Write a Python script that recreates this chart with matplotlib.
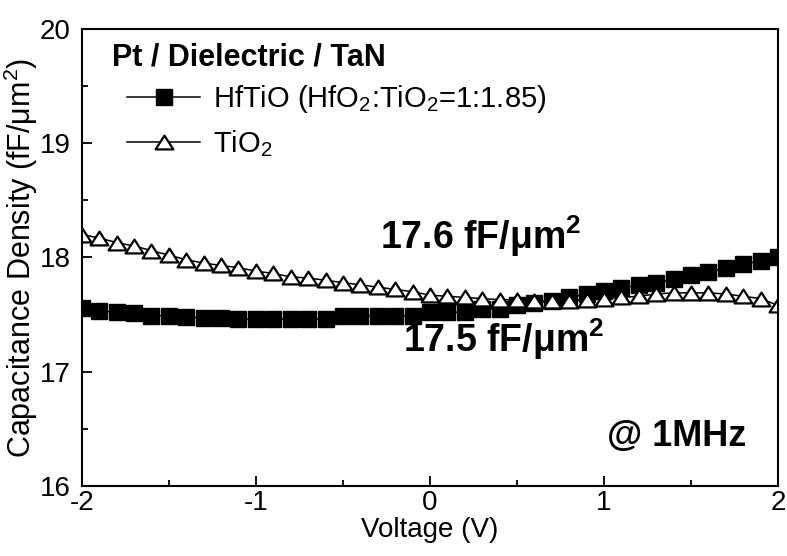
import matplotlib
matplotlib.use('Agg')
import matplotlib.pyplot as plt
from matplotlib.path import Path
from matplotlib.ticker import MultipleLocator

plt.rcParams['font.family'] = ['Liberation Sans', 'DejaVu Sans']
plt.rcParams['mathtext.fontset'] = 'custom'
plt.rcParams['mathtext.rm'] = 'Liberation Sans'
plt.rcParams['mathtext.bf'] = 'Liberation Sans:bold'
plt.rcParams['mathtext.it'] = 'Liberation Sans:italic'
plt.rcParams['axes.unicode_minus'] = False

# bias voltage (V), 0.1 V steps
voltage = [-2.0, -1.9, -1.8, -1.7, -1.6, -1.5, -1.4, -1.3, -1.2, -1.1,
           -1.0, -0.9, -0.8, -0.7, -0.6, -0.5, -0.4, -0.3, -0.2, -0.1,
           0.0, 0.1, 0.2, 0.3, 0.4, 0.5, 0.6, 0.7, 0.8, 0.9,
           1.0, 1.1, 1.2, 1.3, 1.4, 1.5, 1.6, 1.7, 1.8, 1.9, 2.0]

# capacitance density (fF/um^2)
cap_hftio = [17.56, 17.53, 17.52, 17.51, 17.49, 17.49, 17.48, 17.47, 17.47, 17.46,
             17.46, 17.46, 17.46, 17.46, 17.46, 17.49, 17.49, 17.49, 17.49, 17.49,
             17.52, 17.52, 17.52, 17.55, 17.55, 17.58, 17.60, 17.62, 17.65, 17.68,
             17.71, 17.73, 17.76, 17.78, 17.81, 17.85, 17.87, 17.91, 17.94, 17.97, 18.00]

cap_tio2 = [18.20, 18.17, 18.13, 18.10, 18.06, 18.02, 17.98, 17.95, 17.93, 17.91,
            17.88, 17.86, 17.83, 17.82, 17.80, 17.78, 17.76, 17.74, 17.72, 17.70,
            17.67, 17.66, 17.65, 17.64, 17.63, 17.63, 17.62, 17.62, 17.62, 17.63,
            17.64, 17.65, 17.66, 17.68, 17.69, 17.69, 17.69, 17.68, 17.66, 17.64, 17.58]

labels = ['HfTiO (HfO$_2$:TiO$_2$=1:1.85)', 'TiO$_2$']

# flattened triangle, wider than tall
tri = Path([(0, 0.78), (-1, -0.78), (1, -0.78), (0, 0.78)],
           [Path.MOVETO, Path.LINETO, Path.LINETO, Path.CLOSEPOLY])

fig = plt.figure(figsize=(7.87, 5.56), dpi=100)
ax = fig.add_axes([0.104, 0.126, 0.8846, 0.822])

ax.plot(voltage, cap_hftio, '-', color='black', lw=1.1, marker='s',
        ms=11.3, mfc='black', mec='black', mew=1.0, label=labels[0])
ax.plot(voltage, cap_tio2, '-', color='black', lw=1.1, marker=tri,
        ms=12.8, mfc='white', mec='black', mew=1.6, label=labels[1])

ax.set_xlim(-2, 2)
ax.set_ylim(16, 20)
ax.xaxis.set_major_locator(MultipleLocator(1))
ax.xaxis.set_minor_locator(MultipleLocator(0.5))
ax.yaxis.set_major_locator(MultipleLocator(1))
ax.yaxis.set_minor_locator(MultipleLocator(0.5))
ax.tick_params(which='both', direction='in', top=False, right=False,
               labelsize=20, width=1.3)
ax.tick_params(which='major', length=7)
ax.tick_params(which='minor', length=4)
ax.tick_params(axis='x', pad=3)
ax.tick_params(axis='y', pad=8)
for sp in ax.spines.values():
    sp.set_linewidth(1.5)

ax.set_xlabel('Voltage (V)', fontsize=20, labelpad=1)
ax.set_ylabel('Capacitance Density (fF/\u03bcm$^2$)', fontsize=22, labelpad=0)

ax.text(0.043, 0.919, 'Pt / Dielectric / TaN', transform=ax.transAxes,
        fontsize=22, fontweight='bold', ha='left', va='baseline')

leg = ax.legend(loc='upper left', bbox_to_anchor=(0.065, 0.882), frameon=False,
                fontsize=21, handlelength=2.5, handletextpad=0.45,
                borderpad=0, borderaxespad=0, labelspacing=0.45)

ax.text(-0.287, 18.074, '17.6 fF/\u03bcm$^\\mathbf{2}$', fontsize=27,
        fontweight='bold', ha='left', va='baseline')
ax.text(-0.155, 17.17, '17.5 fF/\u03bcm$^\\mathbf{2}$', fontsize=27,
        fontweight='bold', ha='left', va='baseline')
ax.text(1.42, 16.35, '@ 1MHz', fontsize=26, fontweight='bold',
        ha='center', va='baseline')

fig.savefig('out.png', dpi=100)
